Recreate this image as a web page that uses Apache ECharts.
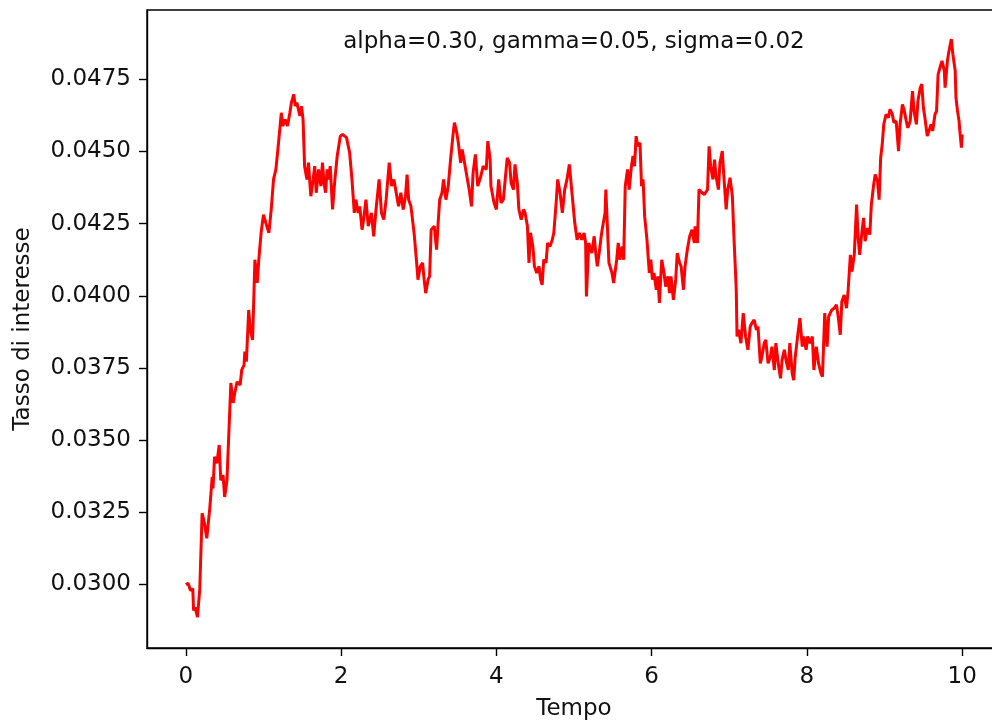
<!DOCTYPE html>
<html>
<head>
<meta charset="utf-8">
<script src="https://cdn.jsdelivr.net/npm/echarts@6/dist/echarts.min.js"></script>
<style>
html,body{margin:0;padding:0;background:#fff;}
#chart{width:992px;height:724px;}
</style>
</head>
<body>
<div id="chart"></div>
<script>
const titleText = 'alpha=0.30, gamma=0.05, sigma=0.02';
const xName = 'Tempo';
const yName = 'Tasso di interesse';
const xTicks = [0, 2, 4, 6, 8, 10];
const yTicks = [0.0300, 0.0325, 0.0350, 0.0375, 0.0400, 0.0425, 0.0450, 0.0475];

const tempo = [
0.00,0.03,0.06,0.09,0.10,0.12,0.15,0.18,0.21,0.24,0.27,0.31,0.34,0.35,0.37,0.40,0.43,0.45,0.48,0.50,
0.53,0.58,0.61,0.63,0.66,0.70,0.72,0.75,0.76,0.78,0.81,0.83,0.86,0.89,0.92,0.94,0.97,1.00,1.03,1.07,
1.10,1.13,1.16,1.19,1.23,1.25,1.28,1.31,1.34,1.36,1.39,1.41,1.43,1.47,1.49,1.51,1.53,1.56,1.58,1.61,
1.64,1.66,1.68,1.71,1.74,1.76,1.78,1.80,1.82,1.84,1.86,1.89,1.92,1.95,1.99,2.02,2.07,2.11,2.14,2.17,
2.19,2.22,2.24,2.27,2.29,2.32,2.35,2.39,2.42,2.45,2.49,2.52,2.55,2.58,2.62,2.65,2.68,2.71,2.74,2.77,
2.80,2.83,2.85,2.87,2.90,2.94,2.97,2.99,3.02,3.05,3.07,3.09,3.12,3.14,3.16,3.20,3.23,3.25,3.27,3.30,
3.32,3.35,3.38,3.41,3.44,3.46,3.49,3.51,3.54,3.56,3.59,3.62,3.65,3.68,3.70,3.73,3.76,3.80,3.83,3.87,
3.89,3.92,3.93,3.97,4.00,4.03,4.06,4.09,4.11,4.14,4.17,4.19,4.22,4.24,4.27,4.29,4.32,4.35,4.37,4.40,
4.42,4.44,4.47,4.49,4.52,4.55,4.57,4.59,4.61,4.64,4.66,4.69,4.72,4.74,4.77,4.79,4.82,4.85,4.88,4.91,
4.94,4.97,5.01,5.04,5.07,5.10,5.13,5.15,5.16,5.19,5.23,5.26,5.28,5.30,5.33,5.35,5.37,5.40,5.41,5.43,
5.45,5.49,5.51,5.55,5.57,5.59,5.62,5.64,5.66,5.69,5.71,5.74,5.76,5.78,5.80,5.82,5.85,5.87,5.89,5.91,
5.94,5.97,5.99,6.01,6.03,6.06,6.08,6.10,6.13,6.16,6.18,6.21,6.23,6.25,6.28,6.31,6.33,6.36,6.38,6.41,
6.43,6.46,6.49,6.52,6.55,6.56,6.59,6.61,6.65,6.68,6.72,6.74,6.76,6.79,6.81,6.83,6.86,6.88,6.91,6.93,
6.96,6.98,7.01,7.04,7.06,7.09,7.10,7.12,7.15,7.18,7.21,7.24,7.27,7.29,7.32,7.35,7.37,7.40,7.42,7.45,
7.47,7.50,7.53,7.55,7.58,7.60,7.63,7.66,7.68,7.71,7.73,7.76,7.78,7.81,7.83,7.85,7.89,7.91,7.94,7.96,
7.99,8.01,8.04,8.07,8.09,8.12,8.15,8.18,8.20,8.23,8.26,8.28,8.32,8.35,8.38,8.40,8.43,8.45,8.48,8.51,
8.53,8.56,8.58,8.61,8.64,8.66,8.68,8.70,8.73,8.75,8.78,8.81,8.83,8.86,8.88,8.91,8.93,8.95,8.97,8.99,
9.02,9.05,9.07,9.10,9.12,9.15,9.18,9.20,9.23,9.25,9.28,9.30,9.33,9.36,9.38,9.41,9.43,9.46,9.48,9.50,
9.52,9.55,9.57,9.60,9.62,9.65,9.67,9.69,9.72,9.74,9.77,9.78,9.81,9.83,9.86,9.88,9.91,9.92,9.94,9.96,
9.97,9.99,10.00
];

const tasso = [
0.03000,0.03004,0.02979,0.02986,0.02910,0.02921,0.02887,0.02986,0.03247,0.03212,0.03160,0.03268,0.03373,0.03333,0.03442,0.03420,0.03483,0.03361,0.03379,0.03303,
0.03361,0.03698,0.03629,0.03663,0.03702,0.03691,0.03743,0.03760,0.03807,0.03772,0.03951,0.03882,0.03847,0.04125,0.04045,0.04125,0.04219,0.04281,0.04253,0.04218,
0.04299,0.04403,0.04438,0.04518,0.04634,0.04588,0.04611,0.04588,0.04634,0.04669,0.04698,0.04657,0.04669,0.04623,0.04657,0.04611,0.04449,0.04403,0.04461,0.04345,
0.04403,0.04449,0.04357,0.04438,0.04380,0.04461,0.04391,0.04357,0.04438,0.04403,0.04449,0.04299,0.04403,0.04484,0.04553,0.04559,0.04548,0.04496,0.04403,0.04287,
0.04333,0.04287,0.04310,0.04229,0.04264,0.04333,0.04241,0.04287,0.04206,0.04299,0.04403,0.04287,0.04264,0.04333,0.04461,0.04380,0.04403,0.04357,0.04310,0.04357,
0.04299,0.04345,0.04420,0.04333,0.04310,0.04218,0.04125,0.04056,0.04102,0.04114,0.04056,0.04009,0.04056,0.04067,0.04229,0.04241,0.04160,0.04252,0.04333,0.04357,
0.04403,0.04333,0.04380,0.04472,0.04553,0.04600,0.04565,0.04530,0.04461,0.04507,0.04461,0.04414,0.04368,0.04310,0.04426,0.04490,0.04380,0.04414,0.04449,0.04438,
0.04536,0.04472,0.04380,0.04322,0.04299,0.04403,0.04322,0.04333,0.04391,0.04478,0.04461,0.04391,0.04368,0.04455,0.04391,0.04299,0.04264,0.04299,0.04287,0.04241,
0.04114,0.04218,0.04171,0.04102,0.04079,0.04102,0.04056,0.04038,0.04125,0.04114,0.04183,0.04171,0.04194,0.04218,0.04322,0.04403,0.04357,0.04287,0.04368,0.04403,
0.04455,0.04368,0.04252,0.04194,0.04218,0.04194,0.04218,0.04183,0.03998,0.04183,0.04148,0.04206,0.04148,0.04102,0.04160,0.04206,0.04241,0.04287,0.04368,0.04241,
0.04114,0.04079,0.04044,0.04125,0.04183,0.04125,0.04171,0.04125,0.04380,0.04438,0.04368,0.04449,0.04484,0.04449,0.04553,0.04518,0.04530,0.04380,0.04403,0.04275,
0.04194,0.04079,0.04125,0.04056,0.04079,0.04021,0.04067,0.03975,0.04125,0.04079,0.04032,0.04067,0.04009,0.04067,0.03986,0.04056,0.04148,0.04114,0.04102,0.04021,
0.04102,0.04160,0.04206,0.04229,0.04183,0.04241,0.04183,0.04368,0.04357,0.04351,0.04368,0.04518,0.04449,0.04403,0.04472,0.04414,0.04368,0.04461,0.04501,0.04414,
0.04299,0.04368,0.04409,0.04345,0.04206,0.04021,0.03859,0.03882,0.03836,0.03940,0.03859,0.03813,0.03893,0.03905,0.03917,0.03882,0.03893,0.03766,0.03789,0.03836,
0.03847,0.03766,0.03789,0.03824,0.03743,0.03836,0.03766,0.03714,0.03778,0.03813,0.03778,0.03743,0.03836,0.03732,0.03708,0.03789,0.03882,0.03923,0.03824,0.03859,
0.03813,0.03859,0.03836,0.03859,0.03743,0.03824,0.03766,0.03732,0.03720,0.03940,0.03824,0.03928,0.03951,0.03957,0.03969,0.03934,0.03865,0.03980,0.04003,0.03957,
0.04015,0.04142,0.04084,0.04142,0.04316,0.04200,0.04142,0.04200,0.04270,0.04189,0.04235,0.04212,0.04316,0.04385,0.04420,0.04397,0.04333,0.04478,0.04524,0.04594,
0.04629,0.04617,0.04646,0.04629,0.04600,0.04605,0.04501,0.04594,0.04663,0.04646,0.04605,0.04582,0.04605,0.04709,0.04640,0.04594,0.04675,0.04721,0.04733,0.04652,
0.04617,0.04553,0.04559,0.04594,0.04571,0.04629,0.04640,0.04767,0.04796,0.04814,0.04779,0.04721,0.04814,0.04848,0.04889,0.04837,0.04779,0.04686,0.04640,0.04605,
0.04571,0.04513,0.04559
];

const FONT = 'DejaVu Sans';
const FS = 23;
const TXT = '#111111';
const chart = echarts.init(document.getElementById('chart'), null, {renderer: 'canvas'});
const option = {
  animation: false,
  backgroundColor: '#ffffff',
  grid: {
    left: 147, top: 10, width: 854, height: 638,
    outerBoundsMode: 'none', containLabel: false,
    show: true, borderColor: '#000', borderWidth: 1.4, backgroundColor: 'transparent'
  },
  graphic: [{
    type: 'text', x: 574, y: 42,
    style: {
      text: titleText, fontSize: FS, fontFamily: FONT, fill: TXT,
      align: 'center', verticalAlign: 'middle', textAlign: 'center', textVerticalAlign: 'middle'
    }
  }],
  xAxis: {
    type: 'value', min: -0.5, max: 10.5,
    name: xName, nameLocation: 'middle', nameGap: 50,
    nameTextStyle: {fontSize: FS, fontFamily: FONT, color: TXT},
    axisLine: {show: true, onZero: false, lineStyle: {color: '#000', width: 1.4}},
    axisTick: {show: true, length: 8, lineStyle: {color: '#000', width: 1.4}, customValues: xTicks},
    axisLabel: {show: true, margin: 18, fontSize: FS, fontFamily: FONT, color: TXT, customValues: xTicks,
      formatter: v => String(v)},
    splitLine: {show: false}
  },
  yAxis: {
    type: 'value', min: 0.0278, max: 0.0499,
    name: yName, nameLocation: 'middle', nameGap: 112, nameRotate: 90,
    nameTextStyle: {fontSize: FS, fontFamily: FONT, color: TXT},
    axisLine: {show: true, onZero: false, lineStyle: {color: '#000', width: 1.4}},
    axisTick: {show: true, length: 8, lineStyle: {color: '#000', width: 1.4}, customValues: yTicks},
    axisLabel: {show: true, margin: 16, fontSize: FS, fontFamily: FONT, color: TXT, customValues: yTicks,
      formatter: v => v.toFixed(4)},
    splitLine: {show: false}
  },
  series: [{
    type: 'line',
    data: tempo.map((t, i) => [t, tasso[i]]),
    showSymbol: false,
    symbol: 'none',
    lineStyle: {color: '#ff0000', width: 3},
    z: 3
  }]
};
chart.setOption(option);
</script>
</body>
</html>
